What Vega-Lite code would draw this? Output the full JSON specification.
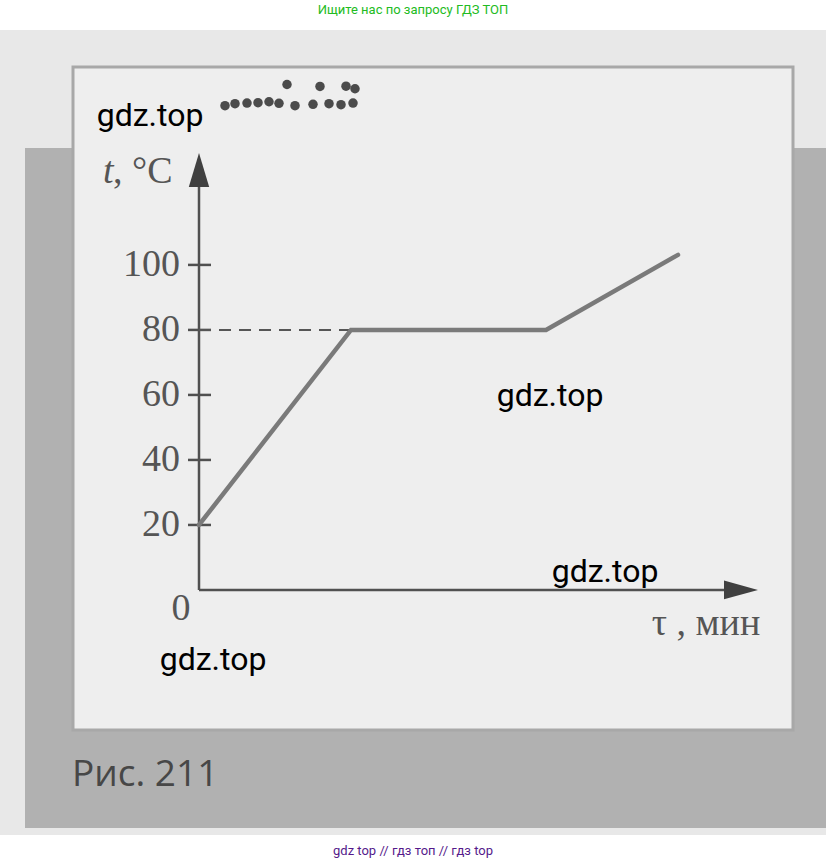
{
  "$schema": "https://vega.github.io/schema/vega-lite/v6.json",
  "width": 826,
  "height": 863,
  "autosize": "none",
  "padding": 0,
  "background": "white",
  "config": {"view": {"stroke": null}},
  "encoding": {
    "x": {"field": "x", "type": "quantitative", "scale": {"domain": [-19.9, 62.7], "nice": false, "zero": false}, "axis": null},
    "y": {"field": "y", "type": "quantitative", "scale": {"domain": [-84.0, 181.5], "nice": false, "zero": false}, "axis": null}
  },
  "layer": [
    {"data": {"values": [{"x": -19.9, "x2": 62.7, "y": 172.3, "y2": -75.4}]},
     "mark": {"type": "rect", "fill": "#e8e8e8"},
     "encoding": {"x2": {"field": "x2"}, "y2": {"field": "y2"}}},
    {"data": {"values": [{"x": -17.4, "x2": 62.7, "y": 136.0, "y2": -73.2}]},
     "mark": {"type": "rect", "fill": "#b1b1b1"},
     "encoding": {"x2": {"field": "x2"}, "y2": {"field": "y2"}}},
    {"data": {"values": [{"x": -12.6, "x2": 59.4, "y": 160.9, "y2": -43.1}]},
     "mark": {"type": "rect", "fill": "#eeeeee", "stroke": "#a8a8a8", "strokeWidth": 3},
     "encoding": {"x2": {"field": "x2"}, "y2": {"field": "y2"}}},
    {"data": {"values": [
      {"x": 2.6, "y": 149.0}, {"x": 3.6, "y": 149.6}, {"x": 4.8, "y": 149.8}, {"x": 5.9, "y": 149.9}, {"x": 7.0, "y": 150.2},
      {"x": 8.0, "y": 149.7}, {"x": 9.6, "y": 149.0}, {"x": 11.4, "y": 149.4}, {"x": 13.0, "y": 149.6}, {"x": 14.2, "y": 149.3},
      {"x": 15.4, "y": 149.8}, {"x": 12.1, "y": 154.9}, {"x": 14.7, "y": 155.0}, {"x": 15.6, "y": 154.2}, {"x": 8.8, "y": 155.5}
     ]},
     "mark": {"type": "point", "shape": "circle", "filled": true, "color": "#2e2e2e", "size": 90, "opacity": 0.85}},
    {"data": {"values": [{"x": 0, "y": 0, "y2": 124.6}]},
     "mark": {"type": "rule", "color": "#505050", "strokeWidth": 2.5},
     "encoding": {"y2": {"field": "y2"}}},
    {"data": {"values": [{"x": 0, "y": 0, "x2": 53.0}]},
     "mark": {"type": "rule", "color": "#505050", "strokeWidth": 2.5},
     "encoding": {"x2": {"field": "x2"}}},
    {"data": {"values": [{"x": -1.1, "x2": 1.2, "y": 20}, {"x": -1.1, "x2": 1.2, "y": 40}, {"x": -1.1, "x2": 1.2, "y": 60}, {"x": -1.1, "x2": 1.2, "y": 80}, {"x": -1.1, "x2": 1.2, "y": 100}]},
     "mark": {"type": "rule", "color": "#505050", "strokeWidth": 2.5},
     "encoding": {"x2": {"field": "x2"}}},
    {"data": {"values": [{"x": 0, "y": 129.2}]},
     "mark": {"type": "point", "shape": "M0,-1L0.6,1L-0.6,1Z", "filled": true, "color": "#404040", "size": 1156, "opacity": 1}},
    {"data": {"values": [{"x": 54.2, "y": 0}]},
     "mark": {"type": "point", "shape": "M1,0L-1,-0.55L-1,0.55Z", "filled": true, "color": "#404040", "size": 1156, "opacity": 1}},
    {"data": {"values": [{"x": 0, "y": 80}, {"x": 15.2, "y": 80}]},
     "mark": {"type": "line", "color": "#555555", "strokeWidth": 2, "strokeDash": [12, 8]}},
    {"data": {"values": [{"x": 0, "y": 20}, {"x": 15.2, "y": 80}, {"x": 34.7, "y": 80}, {"x": 47.9, "y": 103.1}]},
     "mark": {"type": "line", "color": "#7a7a7a", "strokeWidth": 4.5, "strokeCap": "round"}},
    {"data": {"values": [{"x": -1.9, "y": 20, "label": "20"}, {"x": -1.9, "y": 40, "label": "40"}, {"x": -1.9, "y": 60, "label": "60"}, {"x": -1.9, "y": 80, "label": "80"}, {"x": -1.9, "y": 100, "label": "100"}]},
     "mark": {"type": "text", "font": "Liberation Serif", "fontSize": 38, "color": "#555555", "align": "right", "baseline": "middle"},
     "encoding": {"text": {"field": "label"}}},
    {"data": {"values": [{"x": -1.8, "y": -5.8, "label": "0"}]},
     "mark": {"type": "text", "font": "Liberation Serif", "fontSize": 38, "color": "#555555", "align": "center", "baseline": "middle"},
     "encoding": {"text": {"field": "label"}}},
    {"data": {"values": [{"x": -9.6, "y": 125.2, "label": "t"}]},
     "mark": {"type": "text", "font": "Liberation Serif", "fontSize": 38, "fontStyle": "italic", "color": "#555555", "align": "left", "baseline": "alphabetic"},
     "encoding": {"text": {"field": "label"}}},
    {"data": {"values": [{"x": -8.6, "y": 125.2, "label": ", °C"}]},
     "mark": {"type": "text", "font": "Liberation Serif", "fontSize": 38, "color": "#555555", "align": "left", "baseline": "alphabetic"},
     "encoding": {"text": {"field": "label"}}},
    {"data": {"values": [{"x": 50.7, "y": -13.8, "label": "τ , мин"}]},
     "mark": {"type": "text", "font": "Liberation Serif", "fontSize": 38, "color": "#555555", "align": "center", "baseline": "alphabetic"},
     "encoding": {"text": {"field": "label"}}},
    {"data": {"values": [{"x": -12.7, "y": -56.9, "label": "Рис. 211"}]},
     "mark": {"type": "text", "font": "Open Sans", "fontSize": 37, "color": "#474747", "align": "left", "baseline": "middle"},
     "encoding": {"text": {"field": "label"}}},
    {"data": {"values": [{"x": -4.9, "y": 145.8, "label": "gdz.top"}, {"x": 35.1, "y": 59.7, "label": "gdz.top"}, {"x": 40.6, "y": 5.5, "label": "gdz.top"}, {"x": 1.4, "y": -21.5, "label": "gdz.top"}]},
     "mark": {"type": "text", "font": "Roboto", "fontSize": 32, "color": "#000000", "align": "center", "baseline": "middle"},
     "encoding": {"text": {"field": "label"}}},
    {"data": {"values": [{"x": 21.4, "y": 178.5, "label": "Ищите нас по запросу ГДЗ ТОП"}]},
     "mark": {"type": "text", "font": "Roboto", "fontSize": 13, "color": "#22bb22", "align": "center", "baseline": "middle"},
     "encoding": {"text": {"field": "label"}}},
    {"data": {"values": [{"x": 21.4, "y": -80.3, "label": "gdz top  //  гдз топ  //  гдз top"}]},
     "mark": {"type": "text", "font": "Roboto", "fontSize": 13, "color": "#551a8b", "align": "center", "baseline": "middle"},
     "encoding": {"text": {"field": "label"}}}
  ]
}
